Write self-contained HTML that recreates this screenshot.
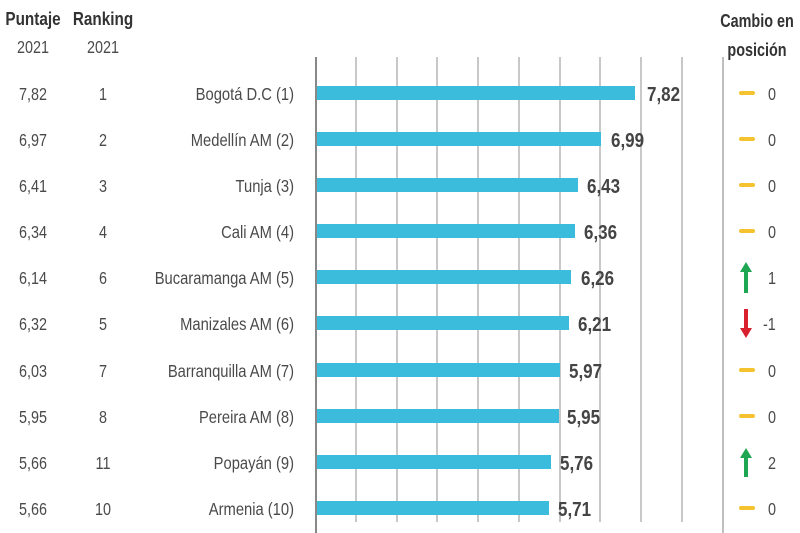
<!DOCTYPE html>
<html><head><meta charset="utf-8"><style>
html,body{margin:0;padding:0;background:#fff;}
svg{display:block;}
text{font-family:"Liberation Sans",sans-serif;fill:#4a4a4a;font-size:18px;}
.h{font-weight:bold;fill:#333;}
.v{font-weight:bold;font-size:20px;fill:#444;}
</style></head><body>
<svg width="800" height="533" viewBox="0 0 800 533">
<g stroke="#b5b5b5" stroke-width="1.5">
<line x1="356" y1="57" x2="356" y2="522"/><line x1="397" y1="57" x2="397" y2="522"/>
<line x1="437" y1="57" x2="437" y2="522"/><line x1="478" y1="57" x2="478" y2="522"/>
<line x1="519" y1="57" x2="519" y2="522"/><line x1="560" y1="57" x2="560" y2="522"/>
<line x1="600" y1="57" x2="600" y2="522"/><line x1="641" y1="57" x2="641" y2="522"/>
<line x1="682" y1="57" x2="682" y2="522"/>
</g>
<line x1="316" y1="57" x2="316" y2="533" stroke="#888" stroke-width="2"/>
<line x1="723" y1="57" x2="723" y2="533" stroke="#aaa" stroke-width="1.5"/>
<g text-anchor="middle">
<g transform="translate(33,25) scale(0.85,1.05)"><text class="h">Puntaje</text></g>
<g transform="translate(33,53) scale(0.8,1)"><text>2021</text></g>
<g transform="translate(103,25) scale(0.85,1.05)"><text class="h">Ranking</text></g>
<g transform="translate(103,53) scale(0.8,1)"><text>2021</text></g>
<g transform="translate(757,27) scale(0.8,1.05)"><text class="h">Cambio en</text></g>
<g transform="translate(757,56) scale(0.8,1.05)"><text class="h">posición</text></g>
</g>
<g fill="#3bbcdc">
<rect x="317" y="86" width="318" height="14"/>
<rect x="317" y="132" width="284" height="14"/>
<rect x="317" y="178" width="261" height="14"/>
<rect x="317" y="224" width="258" height="14"/>
<rect x="317" y="270" width="254" height="14"/>
<rect x="317" y="316" width="252" height="14"/>
<rect x="317" y="363" width="243" height="14"/>
<rect x="317" y="409" width="242" height="14"/>
<rect x="317" y="455" width="234" height="14"/>
<rect x="317" y="501" width="232" height="14"/>
</g>
<g text-anchor="middle">
<g transform="translate(33,100) scale(0.8,1)"><text>7,82</text></g><g transform="translate(103,100) scale(0.8,1)"><text>1</text></g>
<g transform="translate(33,146) scale(0.8,1)"><text>6,97</text></g><g transform="translate(103,146) scale(0.8,1)"><text>2</text></g>
<g transform="translate(33,192) scale(0.8,1)"><text>6,41</text></g><g transform="translate(103,192) scale(0.8,1)"><text>3</text></g>
<g transform="translate(33,238) scale(0.8,1)"><text>6,34</text></g><g transform="translate(103,238) scale(0.8,1)"><text>4</text></g>
<g transform="translate(33,284) scale(0.8,1)"><text>6,14</text></g><g transform="translate(103,284) scale(0.8,1)"><text>6</text></g>
<g transform="translate(33,330) scale(0.8,1)"><text>6,32</text></g><g transform="translate(103,330) scale(0.8,1)"><text>5</text></g>
<g transform="translate(33,377) scale(0.8,1)"><text>6,03</text></g><g transform="translate(103,377) scale(0.8,1)"><text>7</text></g>
<g transform="translate(33,423) scale(0.8,1)"><text>5,95</text></g><g transform="translate(103,423) scale(0.8,1)"><text>8</text></g>
<g transform="translate(33,469) scale(0.8,1)"><text>5,66</text></g><g transform="translate(103,469) scale(0.8,1)"><text>11</text></g>
<g transform="translate(33,515) scale(0.8,1)"><text>5,66</text></g><g transform="translate(103,515) scale(0.8,1)"><text>10</text></g>
</g>
<g text-anchor="end">
<g transform="translate(294,100) scale(0.82,1)"><text>Bogotá D.C  (1)</text></g>
<g transform="translate(294,146) scale(0.82,1)"><text>Medellín AM  (2)</text></g>
<g transform="translate(294,192) scale(0.82,1)"><text>Tunja  (3)</text></g>
<g transform="translate(294,238) scale(0.82,1)"><text>Cali AM  (4)</text></g>
<g transform="translate(294,284) scale(0.82,1)"><text>Bucaramanga AM  (5)</text></g>
<g transform="translate(294,330) scale(0.82,1)"><text>Manizales AM  (6)</text></g>
<g transform="translate(294,377) scale(0.82,1)"><text>Barranquilla AM  (7)</text></g>
<g transform="translate(294,423) scale(0.82,1)"><text>Pereira AM  (8)</text></g>
<g transform="translate(294,469) scale(0.82,1)"><text>Popayán  (9)</text></g>
<g transform="translate(294,515) scale(0.82,1)"><text>Armenia  (10)</text></g>
</g>
<g>
<g transform="translate(647,101) scale(0.85,1)"><text class="v">7,82</text></g>
<g transform="translate(611,147) scale(0.85,1)"><text class="v">6,99</text></g>
<g transform="translate(587,193) scale(0.85,1)"><text class="v">6,43</text></g>
<g transform="translate(584,239) scale(0.85,1)"><text class="v">6,36</text></g>
<g transform="translate(581,285) scale(0.85,1)"><text class="v">6,26</text></g>
<g transform="translate(578,331) scale(0.85,1)"><text class="v">6,21</text></g>
<g transform="translate(569,378) scale(0.85,1)"><text class="v">5,97</text></g>
<g transform="translate(567,424) scale(0.85,1)"><text class="v">5,95</text></g>
<g transform="translate(560,470) scale(0.85,1)"><text class="v">5,76</text></g>
<g transform="translate(558,516) scale(0.85,1)"><text class="v">5,71</text></g>
</g>
<g fill="#f5c330">
<rect x="739" y="91" width="16" height="4" rx="2"/><rect x="739" y="137" width="16" height="4" rx="2"/>
<rect x="739" y="183" width="16" height="4" rx="2"/><rect x="739" y="229" width="16" height="4" rx="2"/>
<rect x="739" y="368" width="16" height="4" rx="2"/><rect x="739" y="414" width="16" height="4" rx="2"/>
<rect x="739" y="506" width="16" height="4" rx="2"/>
</g>
<path d="M746 262 L740 272 L744 272 L744 293 L748 293 L748 272 L752 272 Z" fill="#1fa653"/>
<path d="M746 448 L740 458 L744 458 L744 477 L748 477 L748 458 L752 458 Z" fill="#1fa653"/>
<path d="M746 338 L740 328 L744 328 L744 309 L748 309 L748 328 L752 328 Z" fill="#d8202f"/>
<g>
<g transform="translate(768,100) scale(0.8,1)"><text>0</text></g>
<g transform="translate(768,146) scale(0.8,1)"><text>0</text></g>
<g transform="translate(768,192) scale(0.8,1)"><text>0</text></g>
<g transform="translate(768,238) scale(0.8,1)"><text>0</text></g>
<g transform="translate(768,284) scale(0.8,1)"><text>1</text></g>
<g transform="translate(763,330) scale(0.8,1)"><text>-1</text></g>
<g transform="translate(768,377) scale(0.8,1)"><text>0</text></g>
<g transform="translate(768,423) scale(0.8,1)"><text>0</text></g>
<g transform="translate(768,469) scale(0.8,1)"><text>2</text></g>
<g transform="translate(768,515) scale(0.8,1)"><text>0</text></g>
</g>
</svg>
</body></html>
